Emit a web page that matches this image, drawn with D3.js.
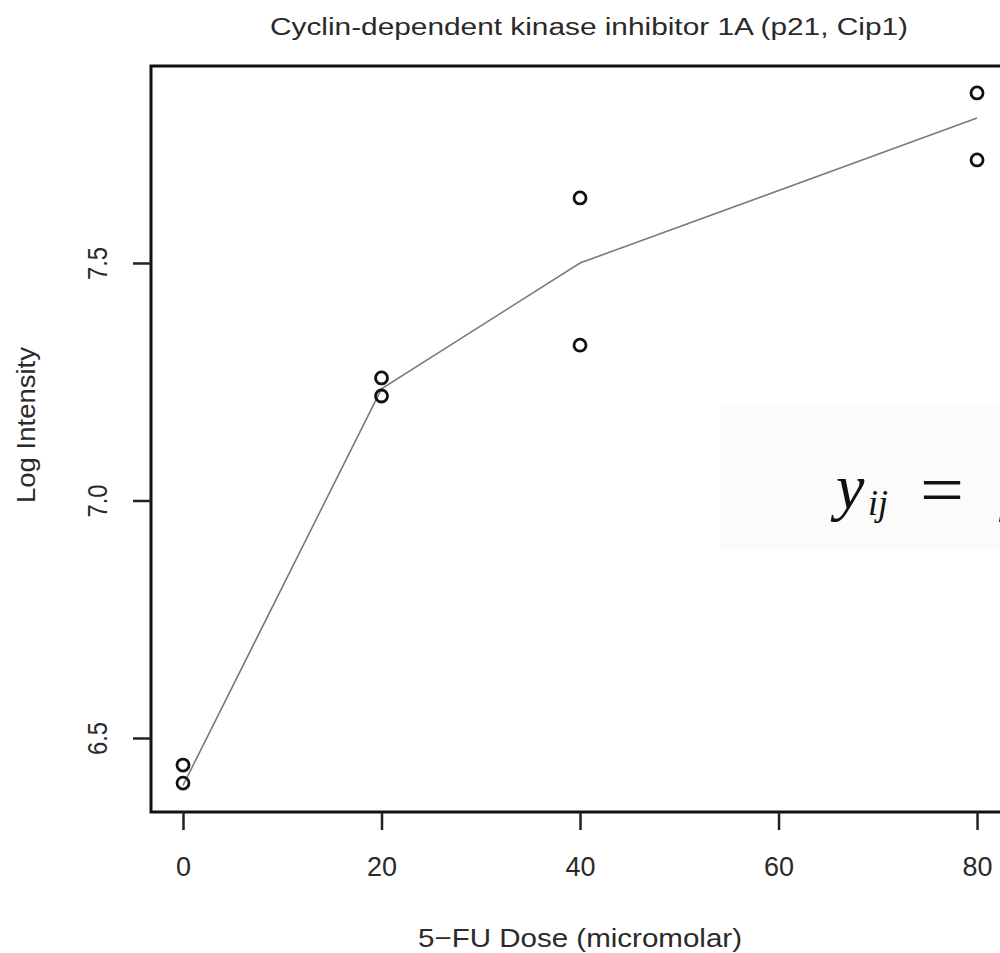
<!DOCTYPE html>
<html>
<head>
<meta charset="utf-8">
<script src="https://cdn.jsdelivr.net/npm/d3@7"></script>
<style>
  body { margin: 0; background: #fff; }
  svg { display: block; font-family: "Liberation Sans", Arial, sans-serif; }
</style>
</head>
<body>
<script>
// data
var doses = [0, 0, 20, 20, 40, 40, 80, 80];
var logIntensity = [6.443, 6.405, 7.258, 7.220, 7.637, 7.327, 7.858, 7.717];
var fitDoses = [0, 20, 40, 80];
var fitValues = [6.40, 7.235, 7.50, 7.805];
var xTicks = [0, 20, 40, 60, 80];
var yTicks = [6.5, 7.0, 7.5];

var width = 1000, height = 953;
var textCol = '#2a2a2a';
var svg = d3.select('body').append('svg')
  .attr('width', width)
  .attr('height', height);

var x = d3.scaleLinear().domain([-3.224, 83.22]).range([151, 1009]);
var y = d3.scaleLinear().domain([6.3442, 7.9147]).range([812, 66]);

// title (the picture is a bit stretched sideways, so text gets a textLength)
svg.append('text')
  .attr('x', 589).attr('y', 35)
  .attr('text-anchor', 'middle')
  .attr('font-size', 23.5)
  .attr('textLength', 638)
  .attr('lengthAdjust', 'spacingAndGlyphs')
  .attr('fill', textCol)
  .text('Cyclin-dependent kinase inhibitor 1A (p21, Cip1)');

// formula panel pasted over the plot, cut at the right edge
svg.append('rect')
  .attr('x', 720).attr('y', 406)
  .attr('width', 290).attr('height', 144)
  .attr('fill', '#fbfbfb');

var serif = '"Liberation Serif", "DejaVu Serif", serif';
svg.append('text')
  .attr('x', 836).attr('y', 508)
  .attr('font-family', serif).attr('font-style', 'italic')
  .attr('font-size', 64).attr('fill', '#111')
  .text('y');
svg.append('text')
  .attr('x', 868).attr('y', 515)
  .attr('font-family', serif).attr('font-style', 'italic')
  .attr('font-size', 36).attr('fill', '#111')
  .text('ij');
svg.append('text')
  .attr('x', 920).attr('y', 514)
  .attr('font-family', serif)
  .attr('font-size', 72).attr('fill', '#111')
  .attr('textLength', 44).attr('lengthAdjust', 'spacingAndGlyphs')
  .text('=');
svg.append('text')
  .attr('x', 999).attr('y', 508)
  .attr('font-family', serif).attr('font-style', 'italic')
  .attr('font-size', 64).attr('fill', '#111')
  .text('μ');

// fitted line
var line = d3.line()
  .x((d, i) => x(fitDoses[i]))
  .y(d => y(d));

svg.append('path')
  .datum(fitValues)
  .attr('d', line)
  .attr('fill', 'none')
  .attr('stroke', '#7a7a7a')
  .attr('stroke-width', 1.6);

// points
svg.selectAll('circle.pt')
  .data(doses)
  .join('circle')
    .attr('class', 'pt')
    .attr('cx', d => x(d))
    .attr('cy', (d, i) => y(logIntensity[i]))
    .attr('r', 6)
    .attr('fill', 'none')
    .attr('stroke', '#111')
    .attr('stroke-width', 2.8);

// box
svg.append('rect')
  .attr('x', 151).attr('y', 66)
  .attr('width', 858).attr('height', 746)
  .attr('fill', 'none')
  .attr('stroke', '#111')
  .attr('stroke-width', 3);

// x axis
var xAxis = svg.append('g')
  .attr('transform', 'translate(0,812)')
  .call(d3.axisBottom(x).tickValues(xTicks).tickSize(18).tickFormat(d3.format('d')));
xAxis.select('.domain').remove();
xAxis.selectAll('.tick line').attr('stroke', '#222').attr('stroke-width', 2.5);
xAxis.selectAll('.tick text')
  .attr('y', 64).attr('dy', null)
  .attr('font-size', 27)
  .attr('textLength', d => d === 0 ? 15 : 30)
  .attr('lengthAdjust', 'spacingAndGlyphs')
  .attr('font-family', '"Liberation Sans", Arial, sans-serif')
  .attr('fill', textCol);

// y axis
var yAxis = svg.append('g')
  .attr('transform', 'translate(151,0)')
  .call(d3.axisLeft(y).tickValues(yTicks).tickSize(18).tickFormat(d3.format('.1f')));
yAxis.select('.domain').remove();
yAxis.selectAll('.tick line').attr('stroke', '#222').attr('stroke-width', 2.5);
yAxis.selectAll('.tick text')
  .attr('x', null).attr('dy', null)
  .attr('transform', 'translate(-44,0) rotate(-90)')
  .attr('text-anchor', 'middle')
  .attr('font-size', 27)
  .attr('textLength', 33)
  .attr('lengthAdjust', 'spacingAndGlyphs')
  .attr('font-family', '"Liberation Sans", Arial, sans-serif')
  .attr('fill', textCol);

// axis titles
svg.append('text')
  .attr('x', 580).attr('y', 947)
  .attr('text-anchor', 'middle')
  .attr('font-size', 26)
  .attr('textLength', 324)
  .attr('lengthAdjust', 'spacingAndGlyphs')
  .attr('fill', textCol)
  .text('5\u2212FU Dose (micromolar)');

svg.append('text')
  .attr('transform', 'translate(35,425) rotate(-90)')
  .attr('text-anchor', 'middle')
  .attr('font-size', 26)
  .attr('textLength', 156)
  .attr('lengthAdjust', 'spacingAndGlyphs')
  .attr('fill', textCol)
  .text('Log Intensity');
</script>
</body>
</html>
